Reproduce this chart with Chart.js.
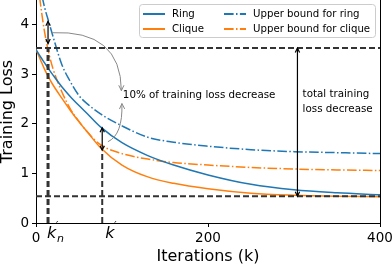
<!DOCTYPE html>
<html>
<head>
<meta charset="utf-8">
<script src="https://cdn.jsdelivr.net/npm/chart.js@4/dist/chart.umd.min.js"></script>
<style>
html, body { margin: 0; padding: 0; background: #fff; }
</style>
</head>
<body>
<canvas id="lossChart" width="392" height="266"></canvas>
<script>
// iterations (k) shared by every curve
const iterations = [0, 5, 10, 15, 20, 30, 40, 50, 60, 75, 100, 130, 160, 200, 250, 300, 350, 400];
const ringLoss = [3.50, 3.36, 3.23, 3.10, 2.98, 2.75, 2.55, 2.37, 2.20, 1.94, 1.62, 1.36, 1.17, 0.97, 0.78, 0.67, 0.61, 0.57];
const cliqueLoss = [3.50, 3.30, 3.10, 2.93, 2.78, 2.52, 2.27, 2.04, 1.83, 1.52, 1.17, 0.93, 0.80, 0.69, 0.60, 0.56, 0.54, 0.53];
const ringBound = [5.20, 4.75, 4.35, 4.05, 3.75, 3.20, 2.85, 2.57, 2.40, 2.20, 1.96, 1.73, 1.63, 1.55, 1.48, 1.44, 1.42, 1.40];
const cliqueBound = [5.20, 4.45, 3.85, 3.42, 3.10, 2.65, 2.30, 2.05, 1.83, 1.58, 1.40, 1.29, 1.22, 1.17, 1.12, 1.09, 1.07, 1.06];

// reference levels
const startLevel = 3.53;
const finalLevel = 0.54;
const kNPrime = 14;
const kPrime = 77;
const kPrimeLoss = 1.45;

const xTicks = [0, 200, 400];
const yTicks = [0, 1, 2, 3, 4];

const BLUE = '#1f77b4';
const ORANGE = '#ff7f0e';
const DASHDOT = [9.6, 2.4, 1.5, 2.4];
const FONT = "'DejaVu Sans', sans-serif";

function pts(ys) {
    return iterations.map((x, i) => ({ x: x, y: ys[i] }));
}

function refLine(data, width) {
    return {
        label: '',
        data: data,
        borderColor: '#333',
        borderWidth: width,
        borderDash: [6, 3],
        pointRadius: 0,
        fill: false
    };
}

function curve(label, ys, color, dash) {
    return {
        label: label,
        data: pts(ys),
        borderColor: color,
        borderWidth: 1.5,
        borderDash: dash,
        pointRadius: 0,
        fill: false,
        cubicInterpolationMode: 'monotone'
    };
}

function arrowHead(ctx, x0, y0, x1, y1, size) {
    const a = Math.atan2(y1 - y0, x1 - x0);
    ctx.beginPath();
    ctx.moveTo(x1 - size * Math.cos(a - 0.45), y1 - size * Math.sin(a - 0.45));
    ctx.lineTo(x1, y1);
    ctx.lineTo(x1 - size * Math.cos(a + 0.45), y1 - size * Math.sin(a + 0.45));
    ctx.stroke();
}

function doubleArrow(ctx, x, yTop, yBot) {
    ctx.save();
    ctx.strokeStyle = '#000';
    ctx.lineWidth = 1.2;
    ctx.setLineDash([]);
    ctx.beginPath();
    ctx.moveTo(x, yTop);
    ctx.lineTo(x, yBot);
    ctx.stroke();
    arrowHead(ctx, x, yBot, x, yTop, 5);
    arrowHead(ctx, x, yTop, x, yBot, 5);
    ctx.restore();
}

function curvedArrow(ctx, p0, c, p1) {
    ctx.save();
    ctx.strokeStyle = '#888';
    ctx.lineWidth = 1;
    ctx.setLineDash([]);
    ctx.beginPath();
    ctx.moveTo(p0[0], p0[1]);
    ctx.quadraticCurveTo(c[0], c[1], p1[0], p1[1]);
    ctx.stroke();
    arrowHead(ctx, c[0], c[1], p1[0], p1[1], 6);
    ctx.restore();
}

const annotate = {
    id: 'annotate',
    afterDatasetsDraw(chart) {
        const { ctx, chartArea } = chart;
        const x = chart.scales.x;
        const y = chart.scales.y;
        const px = v => x.getPixelForValue(v);
        const py = v => y.getPixelForValue(v);

        // right spine
        ctx.save();
        ctx.strokeStyle = '#000';
        ctx.lineWidth = 1;
        ctx.beginPath();
        ctx.moveTo(chartArea.right + 0.5, chartArea.top);
        ctx.lineTo(chartArea.right + 0.5, chartArea.bottom);
        ctx.stroke();
        ctx.restore();

        doubleArrow(ctx, px(kNPrime), py(4.07), py(3.62));
        doubleArrow(ctx, px(kPrime), py(1.92), py(1.47));
        doubleArrow(ctx, px(304), py(startLevel), py(finalLevel));

        curvedArrow(ctx, [px(18.6), py(3.84)], [px(98.7), py(3.9)], [px(99.3), py(2.67)]);
        curvedArrow(ctx, [px(83.6), py(1.64)], [px(101), py(1.78)], [px(99.9), py(2.41)]);

        ctx.save();
        ctx.fillStyle = '#000';
        ctx.font = '10.3px ' + FONT;
        ctx.textBaseline = 'middle';
        ctx.textAlign = 'left';
        ctx.fillText('10% of training loss decrease', px(101), py(2.57));
        ctx.fillText('total training', px(310), py(2.59));
        ctx.fillText('loss decrease', px(310), py(2.29));
        ctx.restore();

        // legend
        const lx = 139.5, ly = 4.5, lw = 236, lh = 33;
        ctx.save();
        ctx.beginPath();
        ctx.roundRect(lx, ly, lw, lh, 3);
        ctx.fillStyle = 'rgba(255,255,255,0.8)';
        ctx.fill();
        ctx.strokeStyle = '#ccc';
        ctx.lineWidth = 1;
        ctx.stroke();
        const items = [
            ['Ring', BLUE, [], 143, 14],
            ['Clique', ORANGE, [], 143, 29],
            ['Upper bound for ring', BLUE, DASHDOT, 224, 14],
            ['Upper bound for clique', ORANGE, DASHDOT, 224, 29]
        ];
        ctx.font = '10.2px ' + FONT;
        ctx.textBaseline = 'middle';
        items.forEach(([text, color, dash, sx, sy]) => {
            ctx.strokeStyle = color;
            ctx.lineWidth = 2;
            ctx.setLineDash(dash);
            ctx.beginPath();
            ctx.moveTo(sx, sy);
            ctx.lineTo(sx + 22, sy);
            ctx.stroke();
            ctx.fillStyle = '#000';
            ctx.fillText(text, sx + 29, sy);
        });
        ctx.restore();

        // k labels under the axis
        const base = chartArea.bottom + 14.5;
        ctx.save();
        ctx.fillStyle = '#000';
        ctx.textBaseline = 'alphabetic';
        ctx.font = 'italic 16px ' + FONT;
        ctx.fillText('k', px(kNPrime) - 1, base);
        ctx.fillText('k', px(kPrime) + 3, base);
        ctx.font = 'italic 10px ' + FONT;
        ctx.fillText('\u2032', px(kNPrime) + 8, base - 9);
        ctx.fillText('\u2032', px(kPrime) + 12, base - 9);
        ctx.font = 'italic 11px ' + FONT;
        ctx.fillText('n', px(kNPrime) + 9, base + 4);

        // axis titles
        ctx.font = '16px ' + FONT;
        ctx.textAlign = 'center';
        ctx.textBaseline = 'middle';
        ctx.fillText('Iterations (k)', (chartArea.left + chartArea.right) / 2, 257);
        ctx.translate(8, (chartArea.top + chartArea.bottom) / 2);
        ctx.rotate(-Math.PI / 2);
        ctx.fillText('Training Loss', 0, 0);
        ctx.restore();
    }
};

const lossCtx = document.getElementById('lossChart').getContext('2d');
const lossChart = new Chart(lossCtx, {
    type: 'line',
    data: {
        datasets: [
            refLine([{ x: 0, y: startLevel }, { x: 400, y: startLevel }], 2),
            refLine([{ x: 0, y: finalLevel }, { x: 400, y: finalLevel }], 2),
            refLine([{ x: kNPrime, y: 0 }, { x: kNPrime, y: startLevel }], 3),
            refLine([{ x: kPrime, y: 0 }, { x: kPrime, y: kPrimeLoss }], 2),
            curve('Ring', ringLoss, BLUE, []),
            curve('Clique', cliqueLoss, ORANGE, []),
            curve('Upper bound for ring', ringBound, BLUE, DASHDOT),
            curve('Upper bound for clique', cliqueBound, ORANGE, DASHDOT)
        ]
    },
    options: {
        responsive: false,
        animation: false,
        devicePixelRatio: 1,
        layout: { padding: { top: 0, right: 12, left: 0, bottom: 0 } },
        plugins: {
            legend: { display: false },
            tooltip: { enabled: false }
        },
        scales: {
            x: {
                type: 'linear',
                min: 0,
                max: 400,
                afterBuildTicks: s => { s.ticks = xTicks.map(v => ({ value: v })); },
                afterFit: s => { s.height = 43; s.paddingLeft = 0; s.paddingRight = 0; },
                ticks: { color: '#000', font: { family: FONT, size: 13.5 }, padding: 3, maxRotation: 0 },
                grid: { drawOnChartArea: false, drawTicks: true, tickLength: 4, color: '#000' },
                border: { color: '#000', width: 1 }
            },
            y: {
                min: 0,
                max: 4.5,
                afterBuildTicks: s => { s.ticks = yTicks.map(v => ({ value: v })); },
                afterFit: s => { s.width = 36; s.paddingTop = 0; s.paddingBottom = 0; },
                ticks: { color: '#000', font: { family: FONT, size: 13.5 }, padding: 3 },
                grid: { drawOnChartArea: false, drawTicks: true, tickLength: 4, color: '#000' },
                border: { color: '#000', width: 1 }
            }
        }
    },
    plugins: [annotate]
});
</script>
</body>
</html>
